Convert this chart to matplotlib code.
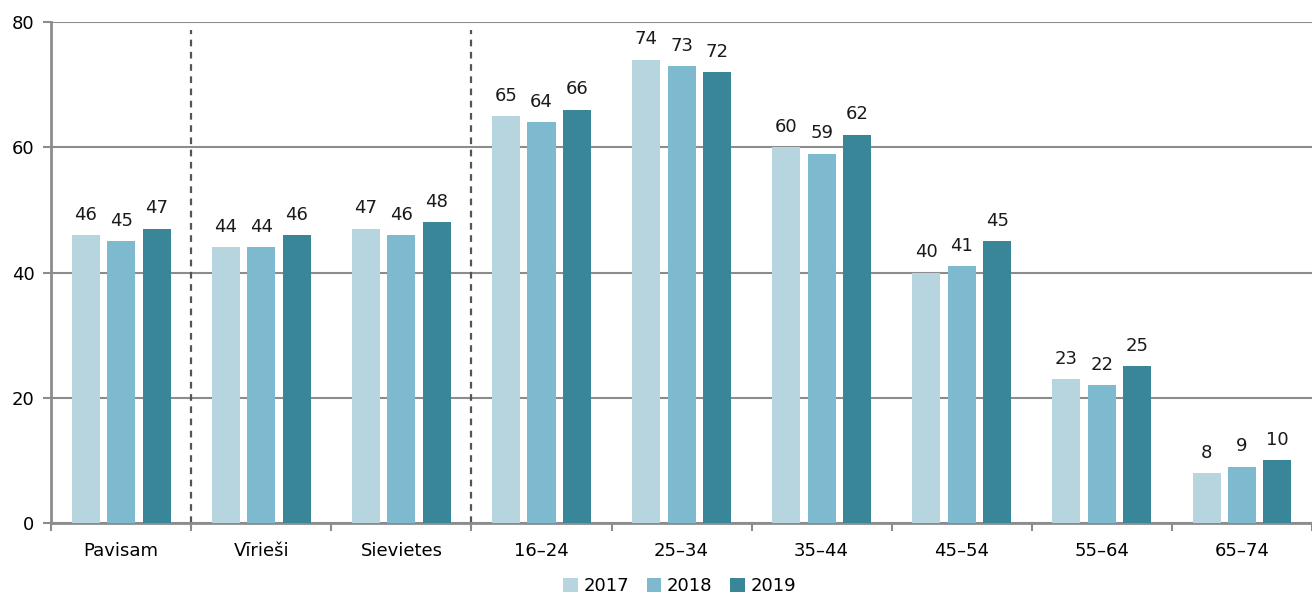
import numpy as np
import matplotlib
matplotlib.use("Agg")
import matplotlib.pyplot as plt

categories = ["Pavisam", "Vīrieši", "Sievietes", "16–24", "25–34", "35–44", "45–54", "55–64", "65–74"]
years = ["2017", "2018", "2019"]
v2017 = [46, 44, 47, 65, 74, 60, 40, 23, 8]
v2018 = [45, 44, 46, 64, 73, 59, 41, 22, 9]
v2019 = [47, 46, 48, 66, 72, 62, 45, 25, 10]
yticks = [0, 20, 40, 60, 80]
dividers = [0.5, 2.5]  # dashed separators after Pavisam and after Sievietes

COLORS = ["#b6d5df", "#7db9cf", "#3a8699"]
GRID = "#8c8c8c"
FS = 13

plt.rcParams.update({"font.family": "sans-serif", "font.sans-serif": ["DejaVu Sans"],
                     "font.size": FS})

fig = plt.figure(figsize=(13.12, 5.95), dpi=100)
ax = fig.add_axes([0.039, 0.121, 0.961, 0.842])

x = np.arange(len(categories))
w, off = 0.2, 0.253
for i, (vals, yr) in enumerate(zip([v2017, v2018, v2019], years)):
    bars = ax.bar(x + (i - 1) * off, vals, width=w, color=COLORS[i], label=yr, zorder=3)
    for b, v in zip(bars, vals):
        ax.text(b.get_x() + b.get_width() / 2, v + 1.8, f"{v}", ha="center", va="bottom",
                fontsize=FS, color="#1a1a1a")

for d in dividers:
    ax.axvline(d, ymin=0, ymax=0.985, color="#555555", ls=(0, (3, 2.5)), lw=1.6, zorder=2)

ax.set_xlim(-0.5, len(categories) - 0.5)
ax.set_ylim(0, 80)
ax.set_yticks(yticks)
ax.yaxis.grid(True, color=GRID, lw=1.5, zorder=0)
ax.set_axisbelow(True)

# category labels centred, tick marks at group boundaries
ax.set_xticks(x)
ax.set_xticklabels(categories)
ax.tick_params(axis="x", length=0, pad=14)
ax.set_xticks(np.arange(len(categories) + 1) - 0.5, minor=True)
ax.tick_params(axis="x", which="minor", length=6, width=1.5, color=GRID, direction="out")
ax.tick_params(axis="y", length=6, width=1.5, color=GRID, pad=6, direction="out")

for s in ("top", "right"):
    ax.spines[s].set_visible(False)
for s in ("left", "bottom"):
    ax.spines[s].set_color(GRID)
    ax.spines[s].set_linewidth(2)

fig.legend(*ax.get_legend_handles_labels(), loc="center", bbox_to_anchor=(0.518, 0.015),
           ncol=3, frameon=False, handlelength=0.8, handleheight=0.8, handletextpad=0.3,
           columnspacing=1.0, fontsize=FS, borderpad=0)

fig.savefig("out.png", dpi=100)
